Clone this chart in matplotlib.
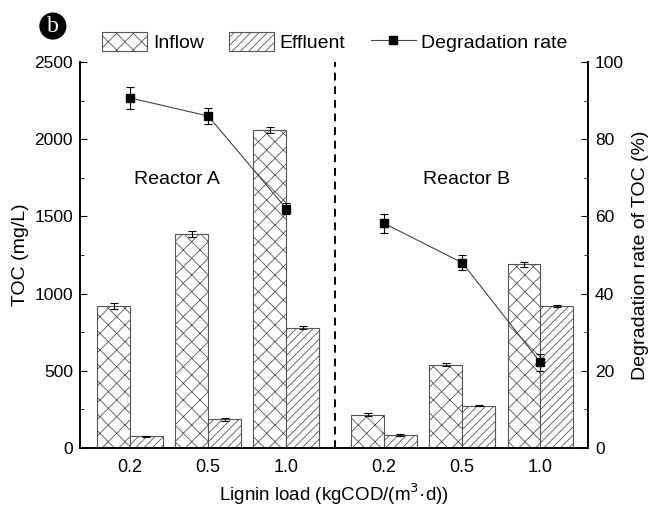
import matplotlib.pyplot as plt
from matplotlib.patches import Patch
from matplotlib.lines import Line2D
from matplotlib.ticker import MultipleLocator

plt.rcParams['font.family'] = ['Liberation Sans', 'DejaVu Sans']
plt.rcParams['hatch.linewidth'] = 0.6

# data
loads = ["0.2", "0.5", "1.0"]
inflow_a = [920, 1385, 2060]
inflow_a_err = [22, 20, 20]
effluent_a = [75, 185, 780]
effluent_a_err = [5, 8, 10]
inflow_b = [215, 540, 1190]
inflow_b_err = [10, 12, 15]
effluent_b = [85, 275, 920]
effluent_b_err = [5, 5, 8]
rate_a = [90.7, 86.0, 62.0]
rate_a_err = [2.8, 2.0, 1.5]
rate_b = [58.2, 48.0, 22.2]
rate_b_err = [2.5, 2.0, 2.2]

pos_a = [1, 2, 3]
pos_b = [4.25, 5.25, 6.25]
width = 0.42
edge = "#555555"

fig = plt.figure(figsize=(6.61, 5.11), dpi=100)
ax = fig.add_axes([0.121, 0.1233, 0.7686, 0.7554])
ax2 = ax.twinx()

err_kw = dict(ecolor="black", elinewidth=0.8, capsize=3, capthick=0.8)
for pos, inf, inf_e, eff, eff_e in [(pos_a, inflow_a, inflow_a_err, effluent_a, effluent_a_err),
                                    (pos_b, inflow_b, inflow_b_err, effluent_b, effluent_b_err)]:
    ax.bar([p - width / 2 for p in pos], inf, width, yerr=inf_e, color="white",
           edgecolor=edge, hatch="xx", linewidth=0.8, error_kw=err_kw)
    ax.bar([p + width / 2 for p in pos], eff, width, yerr=eff_e, color="white",
           edgecolor=edge, hatch="////", linewidth=0.8, error_kw=err_kw)

for pos, r, r_e in [(pos_a, rate_a, rate_a_err), (pos_b, rate_b, rate_b_err)]:
    ax2.errorbar(pos, r, yerr=r_e, color="#444444", lw=0.8, marker="s", ms=6,
                 mfc="black", mec="black", ecolor="black", elinewidth=0.8,
                 capsize=3, capthick=0.8)

ax.axvline(3.62, color="black", ls=(0, (4, 3)), lw=1.4)

ax.set_xlim(0.36, 6.86)
ax.set_ylim(0, 2500)
ax2.set_ylim(0, 100)
ax.set_xticks(pos_a + pos_b)
ax.set_xticklabels(loads + loads)
ax.yaxis.set_major_locator(MultipleLocator(500))
ax.yaxis.set_minor_locator(MultipleLocator(250))
ax2.yaxis.set_major_locator(MultipleLocator(20))
ax2.yaxis.set_minor_locator(MultipleLocator(10))

ax.tick_params(axis="x", length=0, labelsize=13, pad=8)
ax.tick_params(axis="y", which="major", direction="in", length=5, labelsize=12.5, pad=5)
ax.tick_params(axis="y", which="minor", direction="in", length=3)
ax2.tick_params(axis="y", which="major", direction="in", length=5, labelsize=12.5, pad=5)
ax2.tick_params(axis="y", which="minor", direction="in", length=3)

for a in (ax, ax2):
    a.spines["top"].set_visible(False)
    for s in ("left", "right", "bottom"):
        a.spines[s].set_linewidth(1.2)

ax.set_xlabel("Lignin load (kgCOD/(m$^3$·d))", fontsize=13.5, labelpad=4)
ax.set_ylabel("TOC (mg/L)", fontsize=14, labelpad=4)
ax2.set_ylabel("Degradation rate of TOC (%)", fontsize=14, labelpad=6)

ax.text(1.6, 1740, "Reactor A", fontsize=14, ha="center", va="center")
ax.text(5.3, 1740, "Reactor B", fontsize=14, ha="center", va="center")

handles = [Patch(facecolor="white", edgecolor=edge, hatch="xx", lw=0.8),
           Patch(facecolor="white", edgecolor=edge, hatch="////", lw=0.8),
           Line2D([], [], color="#444444", lw=0.8, marker="s", ms=6, mfc="black", mec="black")]
fig.legend(handles, ["Inflow", "Effluent", "Degradation rate"], loc="center",
           bbox_to_anchor=(0.507, 0.918), ncol=3, frameon=False, fontsize=14,
           handlelength=2.3, handleheight=1.1, columnspacing=1.3, handletextpad=0.3)

fig.text(0.080, 0.949, "b", family="Liberation Serif", fontsize=17, color="white",
         ha="center", va="center",
         bbox=dict(boxstyle="circle,pad=0.1", facecolor="black", edgecolor="black"))

fig.savefig("out.png", dpi=100)
